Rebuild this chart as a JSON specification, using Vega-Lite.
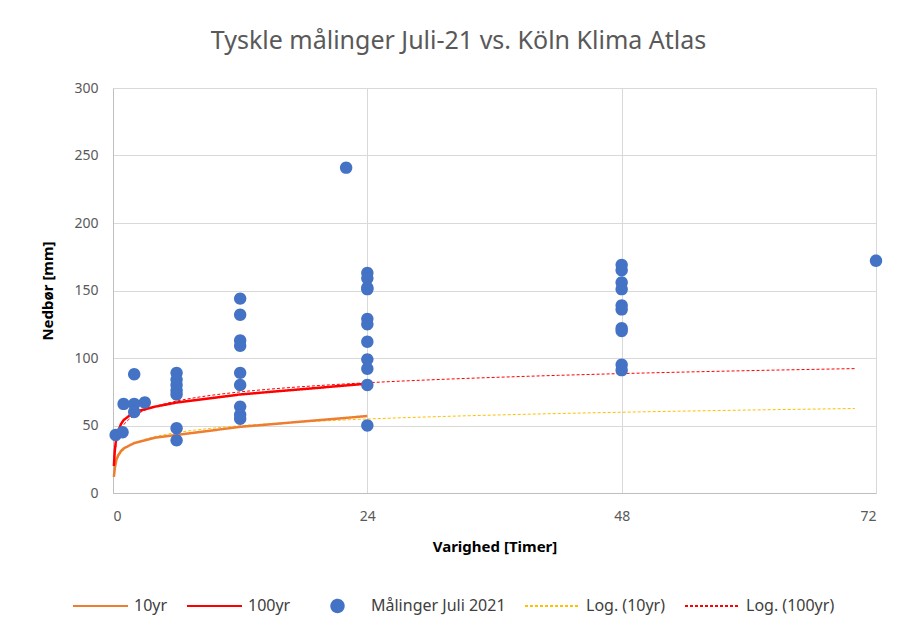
{
  "$schema": "https://vega.github.io/schema/vega-lite/v6.json",
  "width": 763,
  "height": 405,
  "autosize": {"type": "none"},
  "padding": {"left": 113, "top": 88, "right": 26, "bottom": 134},
  "background": "white",
  "config": {
    "font": "Noto Sans",
    "view": {"stroke": null},
    "legend": {"title": null}
  },
  "title": {
    "text": "Tyskle målinger Juli-21 vs. Köln Klima Atlas",
    "fontSize": 25,
    "fontWeight": "normal",
    "color": "#595959",
    "anchor": "middle",
    "dx": -36,
    "offset": 27
  },
  "data": {
    "values": [
      {"series": "10yr", "trend": "Log. (10yr)", "h": 0.0833, "mm": 12},
      {"series": "10yr", "trend": "Log. (10yr)", "h": 0.1667, "mm": 18},
      {"series": "10yr", "trend": "Log. (10yr)", "h": 0.25, "mm": 22},
      {"series": "10yr", "trend": "Log. (10yr)", "h": 0.3333, "mm": 25},
      {"series": "10yr", "trend": "Log. (10yr)", "h": 0.5, "mm": 28},
      {"series": "10yr", "trend": "Log. (10yr)", "h": 0.75, "mm": 31},
      {"series": "10yr", "trend": "Log. (10yr)", "h": 1, "mm": 33},
      {"series": "10yr", "trend": "Log. (10yr)", "h": 1.5, "mm": 35},
      {"series": "10yr", "trend": "Log. (10yr)", "h": 2, "mm": 37},
      {"series": "10yr", "trend": "Log. (10yr)", "h": 3, "mm": 39},
      {"series": "10yr", "trend": "Log. (10yr)", "h": 4, "mm": 41},
      {"series": "10yr", "trend": "Log. (10yr)", "h": 6, "mm": 43},
      {"series": "10yr", "trend": "Log. (10yr)", "h": 9, "mm": 46},
      {"series": "10yr", "trend": "Log. (10yr)", "h": 12, "mm": 49},
      {"series": "10yr", "trend": "Log. (10yr)", "h": 18, "mm": 53},
      {"series": "10yr", "trend": "Log. (10yr)", "h": 24, "mm": 57},
      {"series": "100yr", "trend": "Log. (100yr)", "h": 0.0833, "mm": 20},
      {"series": "100yr", "trend": "Log. (100yr)", "h": 0.1667, "mm": 31},
      {"series": "100yr", "trend": "Log. (100yr)", "h": 0.25, "mm": 37},
      {"series": "100yr", "trend": "Log. (100yr)", "h": 0.3333, "mm": 41},
      {"series": "100yr", "trend": "Log. (100yr)", "h": 0.5, "mm": 46},
      {"series": "100yr", "trend": "Log. (100yr)", "h": 0.75, "mm": 51},
      {"series": "100yr", "trend": "Log. (100yr)", "h": 1, "mm": 54},
      {"series": "100yr", "trend": "Log. (100yr)", "h": 1.5, "mm": 57},
      {"series": "100yr", "trend": "Log. (100yr)", "h": 2, "mm": 60},
      {"series": "100yr", "trend": "Log. (100yr)", "h": 3, "mm": 62},
      {"series": "100yr", "trend": "Log. (100yr)", "h": 4, "mm": 64},
      {"series": "100yr", "trend": "Log. (100yr)", "h": 6, "mm": 67},
      {"series": "100yr", "trend": "Log. (100yr)", "h": 9, "mm": 70},
      {"series": "100yr", "trend": "Log. (100yr)", "h": 12, "mm": 73},
      {"series": "100yr", "trend": "Log. (100yr)", "h": 18, "mm": 77},
      {"series": "100yr", "trend": "Log. (100yr)", "h": 24, "mm": 81},
      {"series": "Målinger Juli 2021", "h": 0.25, "mm": 43},
      {"series": "Målinger Juli 2021", "h": 0.9, "mm": 45},
      {"series": "Målinger Juli 2021", "h": 1, "mm": 66},
      {"series": "Målinger Juli 2021", "h": 2, "mm": 88},
      {"series": "Målinger Juli 2021", "h": 2, "mm": 66},
      {"series": "Målinger Juli 2021", "h": 2, "mm": 60},
      {"series": "Målinger Juli 2021", "h": 3, "mm": 67},
      {"series": "Målinger Juli 2021", "h": 6, "mm": 89},
      {"series": "Målinger Juli 2021", "h": 6, "mm": 84},
      {"series": "Målinger Juli 2021", "h": 6, "mm": 80},
      {"series": "Målinger Juli 2021", "h": 6, "mm": 76},
      {"series": "Målinger Juli 2021", "h": 6, "mm": 73},
      {"series": "Målinger Juli 2021", "h": 6, "mm": 48},
      {"series": "Målinger Juli 2021", "h": 6, "mm": 39},
      {"series": "Målinger Juli 2021", "h": 12, "mm": 144},
      {"series": "Målinger Juli 2021", "h": 12, "mm": 132},
      {"series": "Målinger Juli 2021", "h": 12, "mm": 113},
      {"series": "Målinger Juli 2021", "h": 12, "mm": 109},
      {"series": "Målinger Juli 2021", "h": 12, "mm": 89},
      {"series": "Målinger Juli 2021", "h": 12, "mm": 80},
      {"series": "Målinger Juli 2021", "h": 12, "mm": 64},
      {"series": "Målinger Juli 2021", "h": 12, "mm": 58},
      {"series": "Målinger Juli 2021", "h": 12, "mm": 55},
      {"series": "Målinger Juli 2021", "h": 22, "mm": 241},
      {"series": "Målinger Juli 2021", "h": 24, "mm": 163},
      {"series": "Målinger Juli 2021", "h": 24, "mm": 159},
      {"series": "Målinger Juli 2021", "h": 24, "mm": 152},
      {"series": "Målinger Juli 2021", "h": 24, "mm": 151},
      {"series": "Målinger Juli 2021", "h": 24, "mm": 129},
      {"series": "Målinger Juli 2021", "h": 24, "mm": 125},
      {"series": "Målinger Juli 2021", "h": 24, "mm": 112},
      {"series": "Målinger Juli 2021", "h": 24, "mm": 99},
      {"series": "Målinger Juli 2021", "h": 24, "mm": 92},
      {"series": "Målinger Juli 2021", "h": 24, "mm": 80},
      {"series": "Målinger Juli 2021", "h": 24, "mm": 50},
      {"series": "Målinger Juli 2021", "h": 48, "mm": 169},
      {"series": "Målinger Juli 2021", "h": 48, "mm": 165},
      {"series": "Målinger Juli 2021", "h": 48, "mm": 156},
      {"series": "Målinger Juli 2021", "h": 48, "mm": 151},
      {"series": "Målinger Juli 2021", "h": 48, "mm": 139},
      {"series": "Målinger Juli 2021", "h": 48, "mm": 136},
      {"series": "Målinger Juli 2021", "h": 48, "mm": 122},
      {"series": "Målinger Juli 2021", "h": 48, "mm": 120},
      {"series": "Målinger Juli 2021", "h": 48, "mm": 95},
      {"series": "Målinger Juli 2021", "h": 48, "mm": 91},
      {"series": "Målinger Juli 2021", "h": 72, "mm": 172}
    ]
  },
  "encoding": {
    "x": {
      "field": "h", "type": "quantitative",
      "scale": {"domain": [0, 72], "nice": false},
      "axis": {
        "values": [0, 24, 48, 72],
        "title": "Varighed [Timer]",
        "grid": true, "gridColor": "#d9d9d9", "gridWidth": 1,
        "domainColor": "#bfbfbf", "ticks": false,
        "labelColor": "#595959", "labelFontSize": 14, "labelPadding": 16,
        "titleFontSize": 15, "titleFontWeight": "bold", "titleColor": "#000000", "titlePadding": 16
      }
    },
    "y": {
      "field": "mm", "type": "quantitative",
      "scale": {"domain": [0, 300], "nice": false},
      "axis": {
        "values": [0, 50, 100, 150, 200, 250, 300],
        "title": "Nedbør [mm]",
        "grid": true, "gridColor": "#d9d9d9", "gridWidth": 1,
        "domainColor": "#bfbfbf", "ticks": false,
        "labelColor": "#595959", "labelFontSize": 14, "labelPadding": 15,
        "titleFontSize": 15, "titleFontWeight": "bold", "titleColor": "#000000", "titlePadding": 18
      }
    }
  },
  "layer": [
    {
      "transform": [
        {"filter": "isValid(datum.trend)"},
        {"regression": "mm", "on": "h", "method": "log", "groupby": ["trend"], "extent": [0.0833, 70]}
      ],
      "mark": {"type": "line", "strokeWidth": 1},
      "encoding": {
        "color": {"field": "trend", "type": "nominal"},
        "strokeDash": {
          "field": "trend", "type": "nominal",
          "scale": {
            "domain": ["10yr", "100yr", "Målinger Juli 2021", "Log. (10yr)", "Log. (100yr)"],
            "range": [[1, 0], [1, 0], [1, 0], [3, 2], [3, 2]]
          }
        }
      }
    },
    {
      "transform": [{"filter": "isValid(datum.trend)"}],
      "mark": {"type": "line", "strokeWidth": 2.5},
      "encoding": {
        "color": {"field": "series", "type": "nominal"},
        "strokeDash": {"field": "series", "type": "nominal"}
      }
    },
    {
      "transform": [{"filter": "datum.series === 'Målinger Juli 2021'"}],
      "mark": {"type": "point", "filled": true, "opacity": 1, "strokeWidth": 0, "size": 3025},
      "encoding": {
        "shape": {
          "field": "series", "type": "nominal",
          "scale": {
            "domain": ["10yr", "100yr", "Målinger Juli 2021", "Log. (10yr)", "Log. (100yr)"],
            "range": ["stroke", "stroke", "M-0.225,0A0.225,0.225,0,1,1,0.225,0A0.225,0.225,0,1,1,-0.225,0Z", "stroke", "stroke"]
          }
        },
        "color": {
          "field": "series", "type": "nominal",
          "scale": {
            "domain": ["10yr", "100yr", "Målinger Juli 2021", "Log. (10yr)", "Log. (100yr)"],
            "range": ["#ED7D31", "#FF0000", "#4472C4", "#FFC000", "#FF0000"]
          },
          "legend": {
            "title": null,
            "orient": "none",
            "legendX": -41,
            "legendY": 508,
            "direction": "horizontal",
            "clipHeight": 20,
            "symbolSize": 3025,
            "labelFontSize": 16,
            "labelColor": "#404040",
            "symbolStrokeWidth": 2,
            "symbolOffset": 0,
            "labelOffset": 5,
            "columnPadding": 18
          }
        }
      }
    }
  ]
}
